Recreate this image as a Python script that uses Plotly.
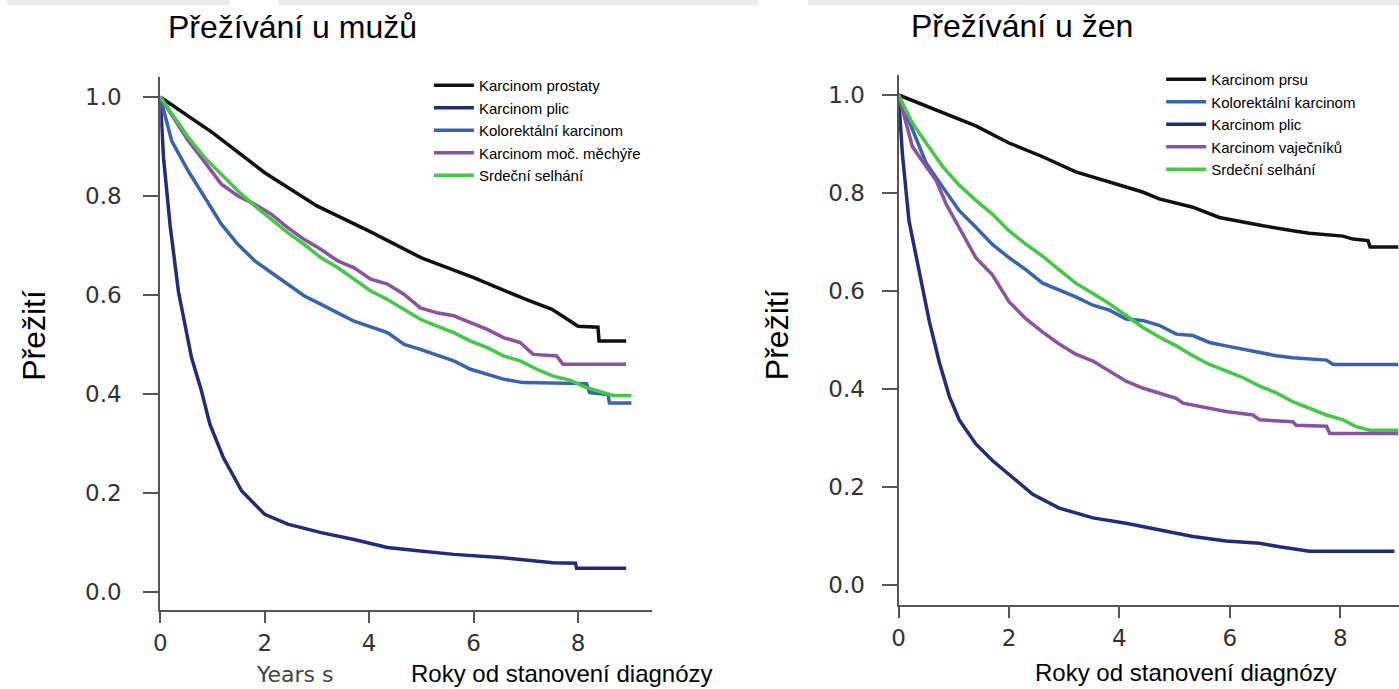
import plotly.graph_objects as go

W, H = 1399, 689

# ---------------- data: men ----------------
men_prostate_t = [0, 1.0, 2.0, 3.0, 4.0, 5.0, 6.0, 7.0, 7.5, 8.0, 8.38, 8.4, 8.92]
men_prostate_s = [1.0, 0.928, 0.847, 0.78, 0.729, 0.675, 0.635, 0.591, 0.571, 0.537, 0.535, 0.507, 0.507]

men_lung_t = [0, 0.063, 0.19, 0.35, 0.6, 0.79, 0.95, 1.21, 1.56, 2.0, 2.44, 3.08, 3.71, 4.35, 4.98, 5.62, 6.57, 7.52, 7.95, 7.97, 8.92]
men_lung_s = [1.0, 0.877, 0.74, 0.606, 0.473, 0.406, 0.339, 0.271, 0.204, 0.157, 0.137, 0.12, 0.106, 0.09, 0.083, 0.076, 0.069, 0.059, 0.058, 0.048, 0.048]

men_colorectal_t = [0, 0.22, 0.54, 0.857, 1.17, 1.49, 1.81, 2.13, 2.44, 2.76, 3.08, 3.71, 4.35, 4.67, 4.98, 5.62, 5.94, 6.57, 6.95, 8.16, 8.22, 8.57, 8.6, 9.02]
men_colorectal_s = [1.0, 0.911, 0.85, 0.797, 0.743, 0.702, 0.669, 0.645, 0.622, 0.598, 0.581, 0.547, 0.524, 0.5, 0.49, 0.467, 0.45, 0.43, 0.423, 0.421, 0.403, 0.399, 0.382, 0.382]

men_bladder_t = [0, 0.54, 0.79, 1.17, 1.49, 1.81, 2.13, 2.44, 2.76, 3.02, 3.4, 3.71, 4.03, 4.35, 4.67, 4.98, 5.3, 5.62, 5.94, 6.25, 6.57, 6.89, 7.14, 7.59, 7.71, 8.92]
men_bladder_s = [1.0, 0.911, 0.877, 0.824, 0.8, 0.783, 0.763, 0.736, 0.712, 0.696, 0.669, 0.655, 0.632, 0.622, 0.601, 0.574, 0.564, 0.558, 0.544, 0.531, 0.514, 0.504, 0.48, 0.477, 0.46, 0.46]

men_heart_t = [0, 0.54, 0.857, 1.17, 1.49, 1.81, 2.13, 2.44, 2.76, 3.08, 3.4, 3.71, 4.03, 4.35, 4.67, 4.98, 5.3, 5.62, 5.94, 6.25, 6.57, 6.89, 7.21, 7.52, 7.84, 8.16, 8.48, 8.67, 9.02]
men_heart_s = [1.0, 0.918, 0.877, 0.844, 0.81, 0.78, 0.753, 0.726, 0.702, 0.675, 0.655, 0.632, 0.608, 0.591, 0.571, 0.551, 0.537, 0.524, 0.507, 0.494, 0.477, 0.467, 0.45, 0.436, 0.428, 0.413, 0.403, 0.397, 0.397]

# ---------------- data: women ----------------
women_breast_t = [0, 0.8, 1.4, 2.0, 2.61, 3.21, 3.82, 4.42, 4.72, 5.33, 5.81, 6.24, 6.6, 7.14, 7.44, 8.05, 8.23, 8.5, 8.54, 9.05]
women_breast_s = [1.0, 0.964, 0.937, 0.902, 0.874, 0.843, 0.823, 0.802, 0.788, 0.771, 0.75, 0.74, 0.733, 0.723, 0.718, 0.712, 0.706, 0.703, 0.69, 0.69]

women_colorectal_t = [0, 0.25, 0.5, 0.8, 1.1, 1.4, 1.7, 2.0, 2.31, 2.61, 2.91, 3.21, 3.52, 3.82, 4.12, 4.42, 4.72, 5.03, 5.33, 5.63, 5.93, 6.24, 6.54, 6.84, 7.14, 7.75, 7.87, 9.05]
women_colorectal_s = [1.0, 0.93, 0.861, 0.812, 0.764, 0.73, 0.695, 0.668, 0.643, 0.616, 0.602, 0.588, 0.571, 0.561, 0.543, 0.54, 0.53, 0.512, 0.509, 0.495, 0.488, 0.481, 0.474, 0.468, 0.464, 0.459, 0.45, 0.45]

women_lung_t = [0, 0.07, 0.19, 0.37, 0.56, 0.74, 0.92, 1.1, 1.4, 1.7, 2.0, 2.43, 2.91, 3.52, 4.12, 4.72, 5.33, 5.93, 6.54, 6.9, 7.44, 8.98]
women_lung_s = [1.0, 0.88, 0.743, 0.64, 0.537, 0.454, 0.385, 0.337, 0.288, 0.254, 0.226, 0.185, 0.157, 0.137, 0.126, 0.112, 0.099, 0.09, 0.085, 0.078, 0.069, 0.069]

women_ovarian_t = [0, 0.25, 0.5, 0.68, 0.86, 1.1, 1.4, 1.7, 2.0, 2.31, 2.61, 2.91, 3.21, 3.52, 3.82, 4.12, 4.42, 4.72, 5.03, 5.15, 5.45, 5.93, 6.42, 6.54, 7.14, 7.2, 7.75, 7.81, 9.05]
women_ovarian_s = [1.0, 0.895, 0.854, 0.826, 0.778, 0.73, 0.668, 0.633, 0.578, 0.543, 0.516, 0.492, 0.471, 0.457, 0.437, 0.416, 0.402, 0.392, 0.381, 0.371, 0.364, 0.354, 0.347, 0.337, 0.333, 0.326, 0.324, 0.309, 0.309]

women_heart_t = [0, 0.25, 0.5, 0.8, 1.1, 1.4, 1.7, 2.0, 2.31, 2.61, 2.91, 3.21, 3.52, 3.82, 4.12, 4.42, 4.72, 5.03, 5.33, 5.63, 5.93, 6.24, 6.54, 6.84, 7.14, 7.44, 7.75, 8.05, 8.29, 8.53, 9.05]
women_heart_s = [1.0, 0.943, 0.902, 0.854, 0.816, 0.785, 0.757, 0.723, 0.695, 0.671, 0.643, 0.616, 0.595, 0.574, 0.55, 0.526, 0.506, 0.488, 0.468, 0.45, 0.437, 0.423, 0.406, 0.392, 0.374, 0.361, 0.347, 0.337, 0.323, 0.316, 0.316]

x_ticks = [0, 2, 4, 6, 8]
y_ticks = [0.0, 0.2, 0.4, 0.6, 0.8, 1.0]

C_BLACK = "#111111"
C_NAVY = "#232c7c"
C_BLUE = "#3862b2"
C_PURPLE = "#8c52a2"
C_GREEN = "#45c845"

men_traces = [
    ("Karcinom prostaty", men_prostate_t, men_prostate_s, C_BLACK),
    ("Karcinom plic", men_lung_t, men_lung_s, C_NAVY),
    ("Kolorektální karcinom", men_colorectal_t, men_colorectal_s, C_BLUE),
    ("Karcinom moč. měchýře", men_bladder_t, men_bladder_s, C_PURPLE),
    ("Srdeční selhání", men_heart_t, men_heart_s, C_GREEN),
]
women_traces = [
    ("Karcinom prsu", women_breast_t, women_breast_s, C_BLACK),
    ("Kolorektální karcinom", women_colorectal_t, women_colorectal_s, C_BLUE),
    ("Karcinom plic", women_lung_t, women_lung_s, C_NAVY),
    ("Karcinom vaječníků", women_ovarian_t, women_ovarian_s, C_PURPLE),
    ("Srdeční selhání", women_heart_t, women_heart_s, C_GREEN),
]

fig = go.Figure()

for i, (name, t, s, c) in enumerate(men_traces):
    fig.add_trace(go.Scatter(x=t, y=s, mode="lines", name=name,
                             line=dict(color=c, width=3.5), xaxis="x", yaxis="y",
                             legend="legend", legendrank=i + 1))
for i, (name, t, s, c) in enumerate(women_traces):
    fig.add_trace(go.Scatter(x=t, y=s, mode="lines", name=name,
                             line=dict(color=c, width=3.5), xaxis="x2", yaxis="y2",
                             legend="legend2", legendrank=i + 1))


def px_x(p):
    return p / W


def px_y(p):
    return 1 - p / H


tickfont = dict(family="DejaVu Sans, Verdana, sans-serif", size=23, color="#333333")
common_axis = dict(showline=True, linecolor="#555555", linewidth=2, ticks="outside",
                   tickcolor="#555555", tickwidth=2, showgrid=False, zeroline=False,
                   tickfont=tickfont, fixedrange=True)

# left panel geometry (pixels)
L_x0, L_x1 = 154, 648
L_ytop, L_ybot = 77, 610
L_xmax = (L_x1 - L_x0) / 52.5
L_ymin = (592 - L_ybot) / 495
L_ymax = (592 - L_ytop) / 495

# right panel geometry (pixels)
R_x0, R_x1 = 896, 1399
R_ytop, R_ybot = 75, 605
R_xmax = (R_x1 - R_x0) / 55.5
R_ymin = (585 - R_ybot) / 490
R_ymax = (585 - R_ytop) / 490

fig.update_layout(
    width=W, height=H,
    margin=dict(l=0, r=0, t=0, b=0),
    paper_bgcolor="white", plot_bgcolor="white",
    font=dict(family="Liberation Sans, Arial, sans-serif", color="black"),
    xaxis=dict(common_axis, domain=[px_x(L_x0), px_x(L_x1)], range=[0, L_xmax],
               tickvals=x_ticks, anchor="y", ticklen=11, ticklabelstandoff=0),
    yaxis=dict(common_axis, domain=[px_y(L_ybot), px_y(L_ytop)], range=[L_ymin, L_ymax],
               tickvals=y_ticks, tickformat=".1f", anchor="x", ticklen=15, ticklabelstandoff=17),
    xaxis2=dict(common_axis, domain=[px_x(R_x0), 1.0], range=[0, R_xmax],
                tickvals=x_ticks, anchor="y2", ticklen=11, ticklabelstandoff=0),
    yaxis2=dict(common_axis, domain=[px_y(R_ybot), px_y(R_ytop)], range=[R_ymin, R_ymax],
                tickvals=y_ticks, tickformat=".1f", anchor="x2", ticklen=15, ticklabelstandoff=12),
    legend=dict(x=px_x(424), y=px_y(69), xanchor="left", yanchor="top",
                bgcolor="rgba(0,0,0,0)", font=dict(size=15, color="black"),
                tracegroupgap=0, itemwidth=40),
    legend2=dict(x=px_x(1160), y=px_y(63), xanchor="left", yanchor="top",
                 bgcolor="rgba(0,0,0,0)", font=dict(size=15, color="black"),
                 tracegroupgap=0, itemwidth=40),
    showlegend=True,
)

# light gray strips at the very top
for a, b in [(0, 224), (273, 755), (805, 1399)]:
    fig.add_shape(type="rect", xref="paper", yref="paper",
                  x0=px_x(a), x1=px_x(b), y0=px_y(5), y1=1.0,
                  line=dict(width=0), fillcolor="#ececec", layer="below")

ann_font = dict(family="Liberation Sans, Arial, sans-serif", color="black")
annotations = [
    dict(text="Přežívání u mužů", x=px_x(287), y=px_y(27), size=32, ya="middle"),
    dict(text="Přežívání u žen", x=px_x(1020), y=px_y(26), size=32, ya="middle"),
    dict(text="Roky od stanovení diagnózy", x=px_x(558), y=0.0, size=24, ya="bottom"),
    dict(text="Roky od stanovení diagnózy", x=px_x(1185), y=px_y(688), size=24, ya="bottom"),
]
for a in annotations:
    fig.add_annotation(text=a["text"], x=a["x"], y=a["y"], xref="paper", yref="paper",
                       xanchor="center", yanchor=a["ya"], showarrow=False,
                       font=dict(ann_font, size=a["size"]))

for xp in (27, 774):
    fig.add_annotation(text="Přežití", x=px_x(xp), y=px_y(335), xref="paper", yref="paper",
                       xanchor="center", yanchor="middle", showarrow=False, textangle=-90,
                       font=dict(ann_font, size=32))

fig.add_annotation(text="Years s", x=px_x(248), y=0.0, xref="paper", yref="paper",
                   xanchor="left", yanchor="bottom", showarrow=False,
                   font=dict(family="DejaVu Sans, Verdana, sans-serif", size=22, color="#444444"))

fig.write_html("out.html", config={"displayModeBar": False},
               post_script="document.body.style.margin='0';")
